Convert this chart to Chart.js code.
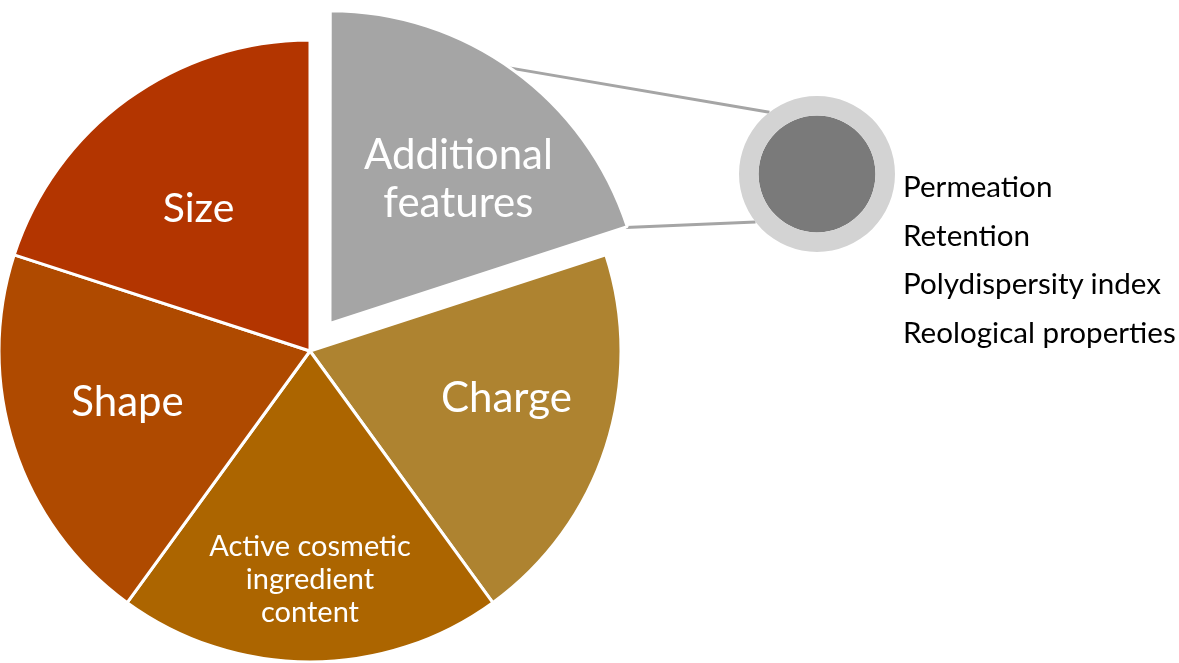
<!DOCTYPE html>
<html>
<head>
<meta charset="utf-8">
<script src="https://cdn.jsdelivr.net/npm/chart.js@4.4.1/dist/chart.umd.min.js"></script>
<style>
  html, body { margin: 0; padding: 0; background: #fff; }
  #wrap { position: relative; width: 1179px; height: 663px; overflow: hidden; font-family: Lato, sans-serif; }
  #mainChart { position: absolute; left: 0; top: 0; }
  #detailChart { position: absolute; left: 739px; top: 96px; }
  #featureList { position: absolute; left: 903px; top: 162px; margin: 0; padding: 0; list-style: none;
                 font-size: 29.6px; line-height: 48.7px; color: #000; white-space: nowrap; }
</style>
</head>
<body>
<div id="wrap">
  <canvas id="mainChart" width="1179" height="663"></canvas>
  <canvas id="detailChart" width="156" height="156"></canvas>
  <ul id="featureList"></ul>
</div>
<script>
// slices, clockwise from 12 o'clock
const categories = [['Additional', 'features'], 'Charge', ['Active cosmetic', 'ingredient', 'content'], 'Shape', 'Size'];
const shares = [1, 1, 1, 1, 1];
const sliceColors = ['#a5a5a5', '#ae8330', '#ac6500', '#af4a00', '#b33500'];

// the exploded slice is broken down into these
const detailItems = ['Permeation', 'Retention', 'Polydispersity index', 'Reological properties'];
const detailRing = [1];
const detailCore = [1];

// label placement inside each slice: fraction of radius, fraction of the slice angle
const labelDistance = [0.62, 0.65, 0.735, 0.61, 0.58];
const labelAngle = [0.58, 0.44, 0.5, 0.53, 0.47];
const labelSize = [42, 42, 29, 42, 41];
const labelLine = [48, 48, 33, 48, 48];

document.getElementById('featureList').innerHTML =
    detailItems.map(t => '<li>' + t + '</li>').join('');

// small circle on the right
const detailCanvas = document.getElementById('detailChart');
const detailChart = new Chart(detailCanvas, {
    type: 'doughnut',
    data: {
        labels: ['Additional features'],
        datasets: [
            { data: detailRing, backgroundColor: '#d3d3d3', borderWidth: 0, weight: 1 },
            { data: detailCore, backgroundColor: '#7a7a7a', borderWidth: 0, weight: 3 }
        ]
    },
    options: {
        responsive: false,
        animation: false,
        cutout: 0,
        radius: 78,
        layout: { padding: 0 },
        events: [],
        plugins: { legend: { display: false }, tooltip: { enabled: false } }
    }
});

// chart.js moves an exploded arc by offset / 4
const shift = arc => (arc.options.offset || 0) / 4;

const pieExtras = {
    id: 'pieExtras',
    beforeDatasetsDraw(chart) {
        // connector lines from the exploded slice to the small circle
        const ctx = chart.ctx;
        const arc = chart.getDatasetMeta(0).data[0];
        const mid = (arc.startAngle + arc.endAngle) / 2;
        const ox = arc.x + Math.cos(mid) * shift(arc);
        const oy = arc.y + Math.sin(mid) * shift(arc);
        const r = arc.outerRadius;
        const a1 = arc.startAngle + 0.48 * (arc.endAngle - arc.startAngle);
        const a2 = arc.endAngle;

        const ring = detailChart.getDatasetMeta(0).data[0];
        const cx = detailCanvas.offsetLeft + ring.x;
        const cy = detailCanvas.offsetTop + ring.y;
        const cr = ring.outerRadius;
        const b1 = -127.6 * Math.PI / 180;
        const b2 = 142 * Math.PI / 180;

        ctx.save();
        ctx.strokeStyle = '#a5a5a5';
        ctx.lineWidth = 3;
        ctx.beginPath();
        ctx.moveTo(ox + Math.cos(a1) * r, oy + Math.sin(a1) * r);
        ctx.lineTo(cx + Math.cos(b1) * cr, cy + Math.sin(b1) * cr);
        ctx.moveTo(ox + Math.cos(a2) * r, oy + Math.sin(a2) * r);
        ctx.lineTo(cx + Math.cos(b2) * cr, cy + Math.sin(b2) * cr);
        ctx.stroke();
        ctx.restore();
    },
    afterDatasetsDraw(chart) {
        const ctx = chart.ctx;
        const meta = chart.getDatasetMeta(0);
        ctx.save();
        ctx.fillStyle = '#fff';
        ctx.textAlign = 'center';
        ctx.textBaseline = 'middle';
        meta.data.forEach((arc, i) => {
            const mid = (arc.startAngle + arc.endAngle) / 2;
            const ang = arc.startAngle + labelAngle[i] * (arc.endAngle - arc.startAngle);
            const ox = arc.x + Math.cos(mid) * shift(arc);
            const oy = arc.y + Math.sin(mid) * shift(arc);
            const d = arc.outerRadius * labelDistance[i];
            const x = ox + Math.cos(ang) * d;
            const y = oy + Math.sin(ang) * d;
            const lines = [].concat(chart.data.labels[i]);
            ctx.font = labelSize[i] + 'px Lato, sans-serif';
            lines.forEach((t, k) => {
                ctx.fillText(t, x, y + (k - (lines.length - 1) / 2) * labelLine[i]);
            });
        });
        ctx.restore();
    }
};

new Chart(document.getElementById('mainChart'), {
    type: 'pie',
    data: {
        labels: categories,
        datasets: [{
            data: shares,
            backgroundColor: sliceColors,
            borderColor: '#ffffff',
            borderWidth: 3,
            offset: [136, 0, 0, 0, 0],
            hoverOffset: 0,
            clip: false
        }]
    },
    options: {
        responsive: false,
        animation: false,
        radius: 311,
        layout: { padding: { left: 0, right: 559, top: 39, bottom: 0 } },
        events: [],
        plugins: { legend: { display: false }, tooltip: { enabled: false } }
    },
    plugins: [pieExtras]
});
</script>
</body>
</html>
